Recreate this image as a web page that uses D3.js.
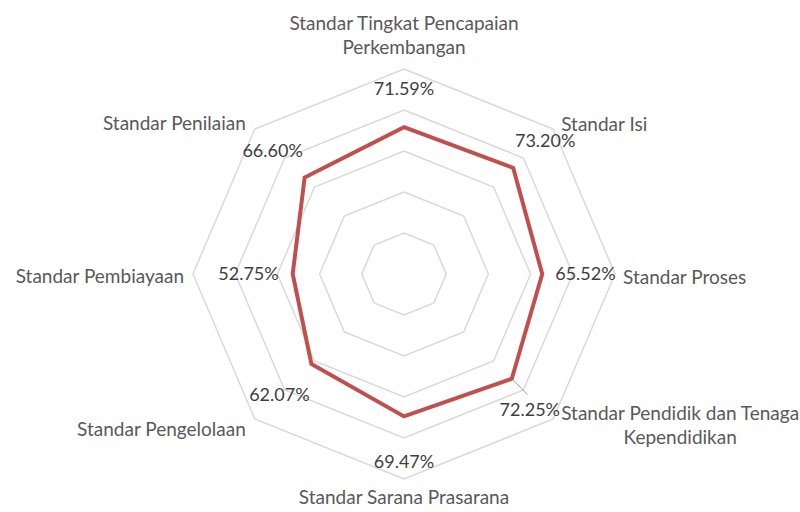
<!DOCTYPE html>
<html>
<head>
<meta charset="utf-8">
<script src="https://cdn.jsdelivr.net/npm/d3@7"></script>
<style>
  html, body { margin: 0; padding: 0; background: #fff; }
  svg { display: block; }
  text { font-family: Lato, "Open Sans", sans-serif; }
</style>
</head>
<body>
<svg id="chart" width="800" height="512"></svg>
<script>
// ---- data ----
const categories = [
  ["Standar Tingkat Pencapaian", "Perkembangan"],
  ["Standar Isi"],
  ["Standar Proses"],
  ["Standar Pendidik dan Tenaga", "Kependidikan"],
  ["Standar Sarana Prasarana"],
  ["Standar Pengelolaan"],
  ["Standar Pembiayaan"],
  ["Standar Penilaian"]
];
const values = [71.59, 73.20, 65.52, 72.25, 69.47, 62.07, 52.75, 66.60];
const gridTicks = [20, 40, 60, 80, 100];

// ---- layout ----
const svg = d3.select("#chart");
const cx = 404, cy = 274;
const rX = 211, rY = 205;
const n = categories.length;

const rScale = d3.scaleLinear().domain([0, 100]).range([0, 1]);
const angle = d3.scaleLinear().domain([0, n]).range([0, 2 * Math.PI]);

function pt(i, v) {
  const a = angle(i);
  const f = rScale(v);
  return [cx + Math.sin(a) * rX * f, cy - Math.cos(a) * rY * f];
}

const line = d3.line().curve(d3.curveLinearClosed);

// grid octagons
svg.append("g").selectAll("path")
  .data(gridTicks)
  .join("path")
  .attr("d", t => line(d3.range(n).map(i => pt(i, t))))
  .attr("fill", "none")
  .attr("stroke", "#d9d9d9")
  .attr("stroke-width", 1.5);

// series
svg.append("path")
  .attr("d", line(values.map((v, i) => pt(i, v))))
  .attr("fill", "none")
  .attr("stroke", "#c0504d")
  .attr("stroke-width", 4)
  .attr("stroke-linejoin", "miter");

// data labels (nudges from each data point, in px)
const labelNudge = [[0, -39], [32, -27], [13, 0], [18, 31], [0, 45], [-32, 31], [-14, 0], [-32, -27]];
const labelAnchor = ["middle", "middle", "start", "middle", "middle", "middle", "end", "middle"];

// leader line for the label that was moved (SE)
{
  const p = pt(3, values[3]);
  svg.append("line")
    .attr("x1", p[0] + 2).attr("y1", p[1] + 2)
    .attr("x2", p[0] + 16).attr("y2", p[1] + 16)
    .attr("stroke", "#a6a6a6").attr("stroke-width", 1);
}

svg.append("g").selectAll("text")
  .data(values)
  .join("text")
  .attr("x", (v, i) => pt(i, v)[0] + labelNudge[i][0])
  .attr("y", (v, i) => pt(i, v)[1] + labelNudge[i][1])
  .attr("dy", "0.35em")
  .attr("text-anchor", (v, i) => labelAnchor[i])
  .attr("font-size", 18)
  .attr("fill", "#404040")
  .text(v => d3.format(".2f")(v) + "%");

// category labels
const catG = svg.append("g");
categories.forEach((lines, i) => {
  const a = angle(i);
  const [vx, vy] = pt(i, 100);
  const s = Math.sin(a), c = Math.cos(a);
  const t = catG.append("text")
    .attr("font-size", 19)
    .attr("fill", "#595959");
  const lh = 24;
  let x, y0, anchor;
  if (Math.abs(s) < 0.01) {
    anchor = "middle";
    x = vx;
    if (c > 0) y0 = vy - 22 - (lines.length - 1) * lh; // top
    else y0 = vy + 18; // bottom
  } else if (s > 0) {
    anchor = "start";
    x = vx + 8;
    y0 = vy + (c > 0.5 ? -5 : (c < -0.5 ? -6 : 3));
  } else {
    anchor = "end";
    x = vx - 9;
    y0 = vy + (c > 0.5 ? -6 : (c < -0.5 ? 10 : 2));
  }
  t.attr("text-anchor", anchor);
  lines.forEach((ln, k) => {
    t.append("tspan").attr("x", x).attr("y", y0 + k * lh).attr("dy", "0.35em").text(ln);
  });
  // multi-line labels at the side: center block with left edge at x
  if (lines.length > 1 && anchor === "start") {
    const w = d3.max(t.selectAll("tspan").nodes(), nd => nd.getComputedTextLength());
    t.attr("text-anchor", "middle");
    t.selectAll("tspan").attr("x", x + w / 2);
  }
});
</script>
</body>
</html>
